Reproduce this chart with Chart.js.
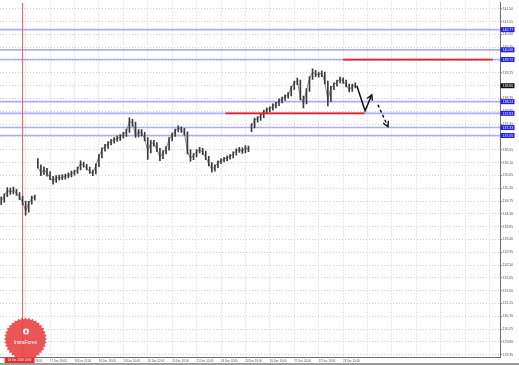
<!DOCTYPE html>
<html><head><meta charset="utf-8">
<script src="https://cdn.jsdelivr.net/npm/chart.js@4.4.1/dist/chart.umd.min.js"></script>
<style>html,body{margin:0;padding:0;background:#fff}#wrap{width:519px;height:365px;position:relative}</style>
</head><body><div id="wrap"><canvas id="c"></canvas></div>
<script>
// ---- data (2-hour slots) ----
const xTickSlots = [8,16,24,32,40,48,56,64,72,80,88,96,104,112,120,128,136,144,152,160];
const xTickLabels = ['14 Dec 18:00','17 Dec 10:00','18 Dec 02:00','18 Dec 18:00','19 Dec 10:00','20 Dec 02:00','20 Dec 18:00','21 Dec 10:00','24 Dec 02:00','24 Dec 18:00','26 Dec 10:00','27 Dec 02:00','27 Dec 18:00','28 Dec 10:00'];
const yTicks = [129.35,129.80,130.25,130.70,131.15,131.60,132.05,132.50,132.95,133.40,133.85,134.30,134.75,135.20,135.65,136.10,136.55,137.00,137.45,137.90,138.35,138.80,139.25,139.70,140.15,140.60,141.05,141.50];
const closes = [
134.75,134.92,135.13,135.06,135.13,135.02,134.88,134.71,134.40,134.68,
134.85,134.88,135.96,135.72,135.86,135.72,135.58,135.44,135.58,135.55,
135.58,135.62,135.65,135.72,135.76,135.86,136.07,136.00,135.90,135.79,
135.72,136.00,136.31,136.56,136.66,136.77,136.84,136.91,136.94,137.01,
137.08,137.19,137.54,137.50,137.05,137.19,137.12,136.94,136.49,136.80,
136.77,136.56,136.28,136.45,136.59,136.91,137.08,137.22,137.32,137.25,
137.15,136.49,136.24,136.35,136.49,136.56,136.45,136.28,136.07,135.86,
135.96,136.10,136.17,136.21,136.28,136.31,136.42,136.52,136.56,136.49,
136.63,136.56,137.39,137.60,137.64,137.74,137.88,137.95,137.99,138.09,
138.16,138.27,138.34,138.41,138.48,138.72,138.90,138.97,138.37,138.20,
138.65,139.07,139.28,139.21,139.18,139.25,138.93,138.30,138.72,138.83,
138.93,139.04,138.97,138.83,138.65,138.79,138.80];
const highs = [
134.90,135.00,135.22,135.20,135.24,135.16,135.05,134.92,134.75,134.74,
134.92,134.96,136.24,136.02,135.95,135.90,135.78,135.62,135.64,135.66,
135.68,135.70,135.74,135.80,135.84,135.94,136.16,136.12,136.04,135.94,
135.84,136.06,136.38,136.62,136.74,136.84,136.92,136.98,137.04,137.08,
137.16,137.28,137.67,137.62,137.52,137.26,137.26,137.16,136.98,136.88,
136.88,136.80,136.60,136.52,136.66,136.98,137.14,137.28,137.39,137.36,
137.30,137.18,136.56,136.42,136.56,136.64,136.60,136.50,136.32,136.10,
136.02,136.16,136.24,136.28,136.34,136.38,136.48,136.58,136.64,136.62,
136.70,136.68,137.46,137.66,137.72,137.80,137.94,138.02,138.06,138.16,
138.22,138.34,138.40,138.48,138.56,138.78,138.96,139.07,139.00,138.44,
138.70,139.12,139.39,139.34,139.28,139.32,139.28,138.96,138.78,138.90,
139.00,139.10,139.08,139.00,138.86,138.86,138.90];
const lows = [
134.62,134.70,134.90,134.98,135.00,134.95,134.80,134.62,134.25,134.36,
134.64,134.78,135.90,135.64,135.68,135.62,135.50,135.34,135.40,135.48,
135.50,135.52,135.56,135.60,135.66,135.72,135.84,135.94,135.84,135.72,
135.64,135.70,135.96,136.26,136.50,136.60,136.72,136.78,136.84,136.88,
136.96,137.02,137.16,137.38,136.98,137.00,137.04,136.86,136.21,136.44,
136.68,136.48,136.17,136.24,136.40,136.54,136.86,137.02,137.18,137.16,
137.06,136.40,136.14,136.20,136.30,136.44,136.38,136.20,135.98,135.76,
135.80,135.92,136.06,136.12,136.16,136.22,136.26,136.36,136.46,136.42,
136.44,136.48,137.19,137.32,137.52,137.58,137.68,137.82,137.88,137.94,
138.02,138.10,138.20,138.28,138.36,138.44,138.66,138.84,138.30,138.02,
138.16,138.60,139.02,139.12,139.10,139.12,138.86,138.09,138.24,138.66,
138.78,138.90,138.88,138.76,138.58,138.60,138.72];
const sessionGapAfter = [11, 81];
const levels = [140.77, 140.06, 139.72, 138.24, 137.83, 137.33, 137.05];
const redSegStart = [112, 73.5];
const redSegEnd = [161, 119];
const redSegPrice = [139.72, 137.83];
const arrowSolidX = [116.5, 119.2, 121.4];
const arrowSolidY = [138.80, 137.92, 138.48];
const arrowDashX = [123.4, 126.7];
const arrowDashY = [138.13, 137.36];
const crosshairSlot = 7;
const crosshairLabel = '14 Dec 2018 14:00';
const X_MIN = -0.4, X_MAX = 163.4, Y_MIN = 129.27, Y_MAX = 141.72;

const FONT = 'Liberation Sans';
const datasets = [];
datasets.push({type:'bar', data: highs.map((h,i)=>({x:i, y:[lows[i], h]})), backgroundColor:'#3a3a3a', barThickness:1, order:1});
datasets.push({type:'line', data: closes.map((c,i)=>({x:i, y:c})), borderColor:'#707070', borderWidth:0.8, pointRadius:0,
  segment:{borderColor: ctx => sessionGapAfter.includes(ctx.p0DataIndex) ? 'rgba(0,0,0,0)' : '#707070'}, order:2});
datasets.push({type:'line', data: arrowSolidX.map((x,i)=>({x, y:arrowSolidY[i]})), borderColor:'#111', borderWidth:1.5, pointRadius:0, order:0});
datasets.push({type:'line', data: arrowDashX.map((x,i)=>({x, y:arrowDashY[i]})), borderColor:'#111', borderWidth:1.5, borderDash:[3,2.5], pointRadius:0, order:0});
levels.forEach(v => datasets.push({type:'line', data:[{x:X_MIN,y:v},{x:X_MAX,y:v}], borderColor:'rgba(140,140,245,0.7)', borderWidth:1.6, pointRadius:0, order:10}));
redSegPrice.forEach((v,i) => datasets.push({type:'line', data:[{x:redSegStart[i],y:v},{x:redSegEnd[i],y:v}], borderColor:'#e82020', borderWidth:1.8, pointRadius:0, order:0.5}));
datasets.push({type:'line', data:[{x:crosshairSlot,y:Y_MIN},{x:crosshairSlot,y:Y_MAX}], borderColor:'#f05a5a', borderWidth:1, pointRadius:0, order:8});

function arrowHead(ctx, x1, y1, x2, y2, len) {
  const a = Math.atan2(y2 - y1, x2 - x1);
  ctx.save(); ctx.strokeStyle = '#111'; ctx.lineWidth = 1.4; ctx.setLineDash([]);
  ctx.beginPath();
  ctx.moveTo(x2 - len*Math.cos(a-0.5), y2 - len*Math.sin(a-0.5));
  ctx.lineTo(x2, y2);
  ctx.lineTo(x2 - len*Math.cos(a+0.5), y2 - len*Math.sin(a+0.5));
  ctx.stroke(); ctx.restore();
}

const decor = {
  id:'decor',
  afterDatasetsDraw(chart) {
    const {ctx, scales:{x, y}} = chart;
    const n1 = arrowSolidX.length, n2 = arrowDashX.length;
    arrowHead(ctx, x.getPixelForValue(arrowSolidX[n1-2]), y.getPixelForValue(arrowSolidY[n1-2]), x.getPixelForValue(arrowSolidX[n1-1]), y.getPixelForValue(arrowSolidY[n1-1]), 6);
    arrowHead(ctx, x.getPixelForValue(arrowDashX[n2-2]), y.getPixelForValue(arrowDashY[n2-2]), x.getPixelForValue(arrowDashX[n2-1]), y.getPixelForValue(arrowDashY[n2-1]), 6);
  },
  afterDraw(chart) {
    const {ctx, chartArea, scales:{x, y}} = chart;
    const r = chartArea.right;
    ctx.save();
    ctx.font = '3.5px "' + FONT + '"';
    ctx.textBaseline = 'middle'; ctx.textAlign = 'left';
    levels.forEach(v => {
      const py = y.getPixelForValue(v);
      ctx.fillStyle = '#1e1ef0'; ctx.fillRect(r + 0.5, py - 2.5, 14, 5);
      ctx.fillStyle = '#fff'; ctx.fillText(v.toFixed(2), r + 2.5, py + 0.2);
    });
    const last = closes[closes.length - 1];
    const pl = y.getPixelForValue(last);
    ctx.fillStyle = '#111'; ctx.fillRect(r + 0.5, pl - 2.5, 14, 5);
    ctx.fillStyle = '#fff'; ctx.fillText(last.toFixed(2), r + 2.5, pl + 0.2);

    // InstaForex badge
    const cx = 25.5, cy = 339, rO = 21.5, rI = 19.5, n = 36;
    ctx.beginPath();
    for (let i = 0; i < 2*n; i++) {
      const rr = i % 2 ? rI : rO, a = i * Math.PI / n;
      const px = cx + rr*Math.cos(a), py = cy + rr*Math.sin(a);
      i ? ctx.lineTo(px, py) : ctx.moveTo(px, py);
    }
    ctx.closePath();
    ctx.fillStyle = 'rgba(232,66,66,0.9)'; ctx.fill();
    ctx.fillStyle = '#fff';
    ctx.beginPath(); ctx.arc(26, 331.5, 3, 0, Math.PI*2); ctx.fill();
    ctx.fillStyle = 'rgba(232,66,66,1)';
    ctx.fillRect(25.3, 330, 1.4, 3.5);
    ctx.fillStyle = '#fff';
    ctx.font = '5px "' + FONT + '"'; ctx.textAlign = 'center';
    ctx.fillText('InstaForex', cx, 342.5);

    // crosshair date label
    const cxp = x.getPixelForValue(crosshairSlot);
    ctx.fillStyle = '#e53030'; ctx.fillRect(cxp - 18, 357.5, 30, 5.5);
    ctx.fillStyle = '#fff'; ctx.font = '2.8px "' + FONT + '"';
    ctx.fillText(crosshairLabel, cxp - 3, 360.4);

    ctx.fillStyle = '#9c9c9c'; ctx.fillRect(0, 363, 519, 2);
    ctx.restore();
  }
};

new Chart(document.getElementById('c'), {
  type:'bar',
  data:{datasets},
  plugins:[decor],
  options:{
    responsive:true, maintainAspectRatio:false, animation:false,
    layout:{padding:0},
    plugins:{legend:{display:false}, tooltip:{enabled:false}},
    scales:{
      x:{type:'linear', min:X_MIN, max:X_MAX, offset:false,
        afterBuildTicks: s => { s.ticks = xTickSlots.map(v => ({value:v})); },
        afterFit: s => { s.height = 8; },
        grid:{color:'#d2d2d2', lineWidth:1, drawTicks:false, tickLength:0, offset:false},
        border:{display:true, color:'#6e6e6e', width:1, dash:[1,2]},
        ticks:{autoSkip:false, maxRotation:0, minRotation:0, align:'start', padding:2.2, color:'#555',
          font:{family:FONT, size:2.8}, callback:(v, i) => xTickLabels[i] || ''}
      },
      y:{type:'linear', position:'right', min:Y_MIN, max:Y_MAX,
        afterBuildTicks: s => { s.ticks = yTicks.map(v => ({value:v})); },
        afterFit: s => { s.width = 19; },
        grid:{color:'#d2d2d2', lineWidth:1, drawTicks:true, tickLength:2, tickColor:'#888', tickBorderDash:[]},
        border:{display:true, color:'#6e6e6e', width:1, dash:[1,2]},
        ticks:{autoSkip:false, padding:0.5, color:'#555', font:{family:FONT, size:3.5},
          callback: v => Number(v).toFixed(2)}
      }
    }
  }
});
</script></body></html>
